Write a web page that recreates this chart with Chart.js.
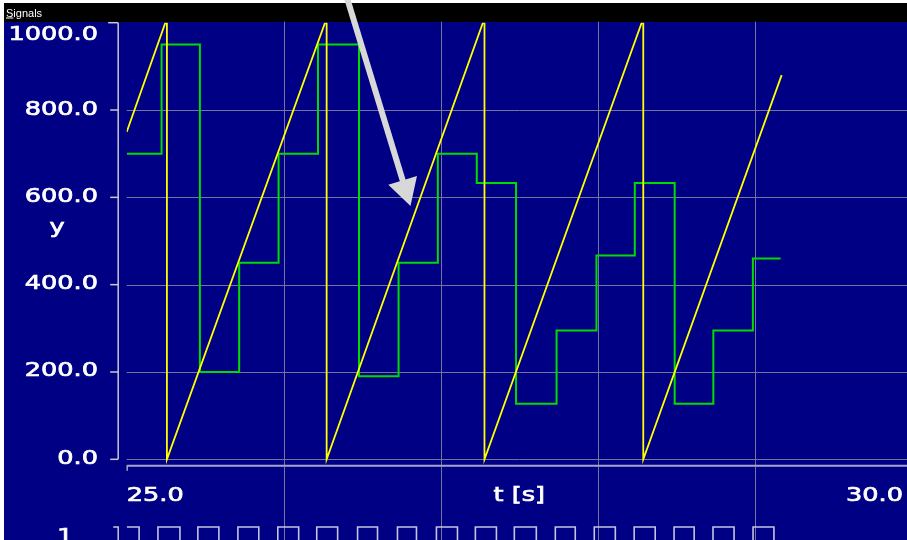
<!DOCTYPE html>
<html>
<head>
<meta charset="utf-8">
<title>Signals</title>
<script src="https://cdn.jsdelivr.net/npm/chart.js@4.4.1/dist/chart.umd.min.js"></script>
<style>
  html, body { margin: 0; padding: 0; background: #ffffff; overflow: hidden; }
  #wrap { position: relative; width: 907px; height: 540px; overflow: hidden; }
  #signals { position: absolute; left: 0; top: 0; }
</style>
</head>
<body>
<div id="wrap"><canvas id="signals" width="915" height="540"></canvas></div>
<script>
// ---------------------------------------------------------------
// data
// ---------------------------------------------------------------
var yTicks      = [0, 200, 400, 600, 800, 1000];
var yTickLabels = ['0.0', '200.0', '400.0', '600.0', '800.0', '1000.0'];
var xGridTimes  = [26, 27, 28, 29];
var xTickLabels = ['25.0', '30.0'];
var xTitle = 't [s]';
var yTitle = 'y';
var laneLabel = '1';

// yellow sawtooth (peaks run past the top and get clipped)
var sawTimes  = [25.0, 25.256, 25.256, 26.273, 26.273, 27.278, 27.278, 28.289, 28.289, 29.170];
var sawValues = [750, 1010, 0, 1010, 0, 1010, 0, 1010, 0, 880];

// green step signal, each value holds until the next time
var stepTimes  = [25.0, 25.222, 25.466, 25.716, 25.967, 26.218, 26.479, 26.731, 26.981,
                  27.229, 27.479, 27.737, 27.991, 28.235, 28.489, 28.735, 28.987, 29.163];
var stepValues = [700, 950, 200, 450, 700, 950, 190, 450, 700,
                  633, 127, 295, 467, 633, 127, 295, 460, 460];

// digital lane "1": rising and falling edges
var pulseRise = [25.0, 25.199, 25.453, 25.708, 25.962, 26.210, 26.470, 26.724, 26.972,
                 27.220, 27.468, 27.729, 27.977, 28.231, 28.485, 28.733, 28.988];
var pulseFall = [25.079, 25.339, 25.587, 25.841, 26.095, 26.343, 26.597, 26.845, 27.106,
                 27.354, 27.608, 27.856, 28.111, 28.365, 28.613, 28.867, 29.121];

// arrow annotation, in data units (tail, tip)
var arrowTail = [26.40, 1060];
var arrowTip  = [26.807, 580];

// ---------------------------------------------------------------
// build point lists for the library
// ---------------------------------------------------------------
var sawPoints = sawTimes.map(function (t, i) { return { x: t, y: sawValues[i] }; });
var stepPoints = stepTimes.map(function (t, i) { return { x: t, y: stepValues[i] }; });
var pulsePoints = [];
pulseRise.forEach(function (t, i) {
    if (i > 0) pulsePoints.push({ x: t, y: 0 });
    pulsePoints.push({ x: t, y: 1 });
    pulsePoints.push({ x: pulseFall[i], y: 1 });
    pulsePoints.push({ x: pulseFall[i], y: 0 });
});

// ---------------------------------------------------------------
// drawing helpers
// ---------------------------------------------------------------
var NAVY = '#000084';
var GRID = '#74749c';
var TEXT_FONT = '20px "DejaVu Sans"';
var STRETCH = 1.28;   // the original font is drawn wide

function wideText(c, str, x, y, align) {
    var w = c.measureText(str).width * STRETCH;
    var left = x;
    if (align === 'right') left = x - w;
    if (align === 'center') left = x - w / 2;
    c.save();
    c.translate(left, y);
    c.scale(STRETCH, 1);
    c.textAlign = 'left';
    c.lineWidth = 0.7;
    c.strokeStyle = c.fillStyle;
    c.fillText(str, 0, 0);
    c.strokeText(str, 0, 0);
    c.restore();
}

var signalsFrame = {
    id: 'signalsFrame',
    beforeDraw: function (chart) {
        var c = chart.ctx, w = chart.width, h = chart.height;
        var a = chart.chartArea;
        var xs = chart.scales.x, ys = chart.scales.y;
        c.save();
        c.fillStyle = '#ffffff';
        c.fillRect(0, 0, w, h);
        c.fillStyle = NAVY;
        c.fillRect(4, 3, w - 4, h - 3);
        c.fillStyle = '#000000';
        c.fillRect(4, 3, w - 4, 19);

        // window title
        c.fillStyle = '#ffffff';
        c.font = '11px "Liberation Sans"';
        c.textBaseline = 'alphabetic';
        c.fillText('Signals', 6, 16.5);
        c.fillRect(6, 17.5, c.measureText('S').width, 1);

        // grid
        c.strokeStyle = GRID;
        c.lineWidth = 1;
        yTicks.forEach(function (v) {
            if (v >= 1000) return;
            var py = Math.round(ys.getPixelForValue(v)) + 0.5;
            c.beginPath(); c.moveTo(a.left, py); c.lineTo(a.right, py); c.stroke();
        });
        xGridTimes.forEach(function (t) {
            var px = Math.round(xs.getPixelForValue(t)) + 0.5;
            c.beginPath(); c.moveTo(px, a.top - 1); c.lineTo(px, h); c.stroke();
        });
        c.restore();
    },
    afterDatasetsDraw: function (chart) {
        var c = chart.ctx, h = chart.height;
        var a = chart.chartArea;
        var xs = chart.scales.x, ys = chart.scales.y, yd = chart.scales.yd;
        var y0 = ys.getPixelForValue(0), yTop = ys.getPixelForValue(1000);
        var axisX = a.left - 8.5;
        c.save();

        // y axis with ticks
        c.strokeStyle = '#c8c8d0';
        c.lineWidth = 1.5;
        c.beginPath(); c.moveTo(axisX, yTop); c.lineTo(axisX, y0); c.stroke();
        yTicks.forEach(function (v) {
            var py = ys.getPixelForValue(v);
            c.beginPath(); c.moveTo(axisX - (v === 1000 ? 10 : 8), py); c.lineTo(axisX, py); c.stroke();
        });

        // x axis line under the plot
        var xAxisY = y0 + 6.5;
        c.strokeStyle = '#a4a4cc';
        c.lineWidth = 2;
        c.beginPath(); c.moveTo(a.left, xAxisY); c.lineTo(a.right, xAxisY); c.stroke();
        c.lineWidth = 1.5;
        c.beginPath(); c.moveTo(a.left + 0.5, xAxisY); c.lineTo(a.left + 0.5, xAxisY + 5); c.stroke();

        // lane axis
        var laneY = yd.getPixelForValue(1);
        c.strokeStyle = '#c8c8d0';
        c.beginPath(); c.moveTo(axisX - 5, laneY); c.lineTo(axisX, laneY); c.lineTo(axisX, h); c.stroke();

        // labels
        c.fillStyle = '#ffffff';
        c.font = TEXT_FONT;
        c.textBaseline = 'alphabetic';
        yTicks.forEach(function (v, i) {
            var base = Math.max(ys.getPixelForValue(v) + 4.5, 40);
            wideText(c, yTickLabels[i], 98, base, 'right');
        });
        wideText(c, yTitle, 57, 233, 'center');
        wideText(c, xTickLabels[0], xs.getPixelForValue(25), 501, 'left');
        wideText(c, xTitle, (xs.getPixelForValue(25) + xs.getPixelForValue(30)) / 2, 501, 'center');
        wideText(c, xTickLabels[1], 903, 501, 'right');
        wideText(c, laneLabel, 57, laneY + 15, 'left');

        // arrow annotation
        var tx = xs.getPixelForValue(arrowTail[0]), ty = ys.getPixelForValue(arrowTail[1]);
        var hx = xs.getPixelForValue(arrowTip[0]), hy = ys.getPixelForValue(arrowTip[1]);
        var dx = hx - tx, dy = hy - ty, len = Math.sqrt(dx * dx + dy * dy);
        var ux = dx / len, uy = dy / len;
        var bx = hx - ux * 27, by = hy - uy * 27;
        c.strokeStyle = '#d8d8d8';
        c.fillStyle = '#d8d8d8';
        c.lineWidth = 6;
        c.beginPath(); c.moveTo(tx, ty); c.lineTo(bx + ux * 2, by + uy * 2); c.stroke();
        c.beginPath();
        c.moveTo(hx, hy);
        c.lineTo(bx - uy * 15, by + ux * 15);
        c.lineTo(bx + uy * 15, by - ux * 15);
        c.closePath();
        c.fill();
        c.restore();
    }
};

// ---------------------------------------------------------------
// chart
// ---------------------------------------------------------------
var ctx = document.getElementById('signals').getContext('2d');
var signalsChart = new Chart(ctx, {
    type: 'line',
    data: {
        datasets: [{
            label: 'saw',
            data: sawPoints,
            borderColor: '#ffff00',
            borderWidth: 1.8,
            pointRadius: 0,
            tension: 0,
            clip: 0
        }, {
            label: 'step',
            data: stepPoints,
            borderColor: '#00dc00',
            borderWidth: 2,
            pointRadius: 0,
            stepped: true,
            clip: 0
        }, {
            label: 'lane 1',
            data: pulsePoints,
            yAxisID: 'yd',
            borderColor: '#c4c4e0',
            borderWidth: 1.6,
            pointRadius: 0,
            tension: 0,
            clip: 0
        }]
    },
    options: {
        responsive: false,
        animation: false,
        devicePixelRatio: 1,
        layout: { padding: { left: 126.7, top: 22.7, right: 3, bottom: 0 } },
        plugins: { legend: { display: false }, tooltip: { enabled: false } },
        scales: {
            x:  { type: 'linear', min: 25, max: 30, display: false },
            y:  { type: 'linear', min: -184.8, max: 1000, display: false },
            yd: { type: 'linear', min: 0.381, max: 25.01, display: false }
        }
    },
    plugins: [signalsFrame]
});
</script>
</body>
</html>
